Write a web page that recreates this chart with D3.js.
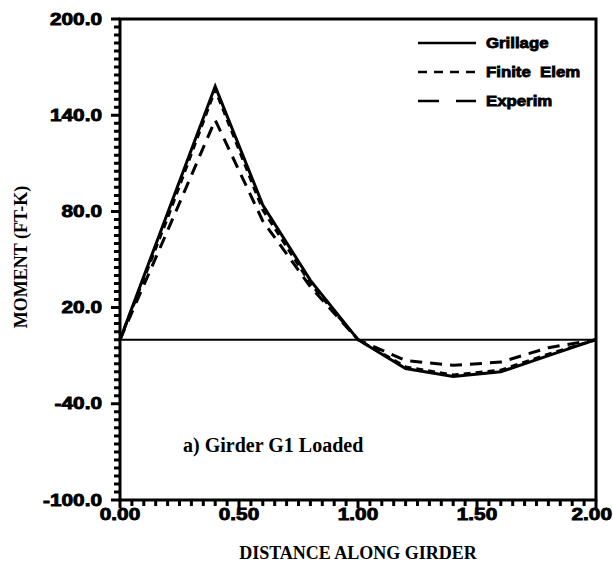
<!DOCTYPE html>
<html>
<head>
<meta charset="utf-8" />
<title>Girder G1 Loaded - moment along girder</title>
<script src="https://cdn.jsdelivr.net/npm/d3@7"></script>
<style>
	body { margin: 0; background: #fff; }
	.tick-lab { font-family: "Liberation Sans", Arial, sans-serif; font-weight: bold; font-size: 16px; fill: #000; stroke: #000; stroke-width: 0.8px; }
	.serif { font-family: "Liberation Serif", "Times New Roman", serif; font-weight: bold; fill: #000; }
	.legend-lab { font-family: "Liberation Sans", Arial, sans-serif; font-weight: bold; font-size: 14px; fill: #000; stroke: #000; stroke-width: 0.8px; }
</style>
</head>
<body>
<script>
// datos
var distance   = [0.0, 0.2, 0.4, 0.6, 0.8, 1.0, 1.2, 1.4, 1.6, 1.8, 2.0];
var grillage   = [0, 79, 158, 84, 37, 0, -18, -23, -20, -10, 0];
var finiteElem = [0, 76, 156, 81, 35, 0, -17, -22, -19, -9, 0];
var experim    = [0, 68, 137, 74, 33, 0, -13, -16, -14, -5, 0];

var yTicks = [200, 140, 80, 20, -40, -100];
var xTicks = [0, 0.5, 1.0, 1.5, 2.0];
var yMinor = d3.range(-100, 201, 5);
var xMinor = d3.range(0, 2.001, 0.05);

var series = [
	{ name: "Grillage",     values: grillage,   dash: null,   legDash: null },
	{ name: "Finite  Elem", values: finiteElem, dash: "7,5",  legDash: "9,7" },
	{ name: "Experim",      values: experim,    dash: "12,8", legDash: "21,17" }
];

var STRETCH = 1.3; // las etiquetas del original son muy anchas

var svg = d3.select("body").append("svg")
	.attr("width", 613)
	.attr("height", 570);

var margin = { top: 19, right: 17, bottom: 70, left: 120 },
	width = 613 - margin.left - margin.right,
	height = 570 - margin.top - margin.bottom;

var g = svg.append("g").attr("transform", "translate(" + margin.left + "," + margin.top + ")");

var x = d3.scaleLinear().domain([0, 2]).range([0, width]);
var y = d3.scaleLinear().domain([-100, 200]).range([height, 0]);

// ticks eje Y (hacia fuera), un solo path
var yTickPath = yMinor.map(function (d) {
	var len = yTicks.indexOf(d) >= 0 ? 9 : 6;
	return "M" + (-len) + "," + y(d).toFixed(1) + "H0";
}).join("");
g.append("path")
	.attr("d", yTickPath)
	.attr("fill", "none")
	.attr("stroke", "black")
	.attr("stroke-width", 3);

// ticks eje X (hacia abajo)
var xTickPath = xMinor.map(function (d) {
	var len = Math.abs(d * 2 - Math.round(d * 2)) < 1e-6 ? 8 : 6;
	return "M" + x(d).toFixed(1) + "," + height + "V" + (height + len);
}).join("");
g.append("path")
	.attr("d", xTickPath)
	.attr("fill", "none")
	.attr("stroke", "black")
	.attr("stroke-width", 3);

// etiquetas eje Y
g.append("g").selectAll("text")
	.data(yTicks)
	.enter().append("text")
	.attr("class", "tick-lab")
	.attr("text-anchor", "end")
	.attr("dy", "0.35em")
	.attr("transform", function (d) { return "translate(-18," + y(d) + ") scale(" + STRETCH + ",1)"; })
	.text(function (d) { return d3.format(".1f")(d).replace("\u2212", "-"); });

// etiquetas eje X
g.append("g").selectAll("text")
	.data(xTicks)
	.enter().append("text")
	.attr("class", "tick-lab")
	.attr("text-anchor", function (d) { return d == 2 ? "end" : "middle"; })
	.attr("dy", "0.71em")
	.attr("transform", function (d) {
		var px = d == 2 ? 613 - margin.left - 1 : x(d);
		return "translate(" + px + "," + (height + 9) + ") scale(" + STRETCH + ",1)";
	})
	.text(d3.format(".2f"));

// marco
g.append("rect")
	.attr("x", 0).attr("y", 0)
	.attr("width", width).attr("height", height)
	.attr("fill", "none")
	.attr("stroke", "#000")
	.attr("stroke-width", 3);

// linea de cero
g.append("line")
	.attr("x1", x(0)).attr("x2", x(2))
	.attr("y1", y(0)).attr("y2", y(0))
	.attr("stroke", "#000")
	.attr("stroke-width", 2);

// curvas
var line = d3.line()
	.x(function (d, i) { return x(distance[i]); })
	.y(function (d) { return y(d); });

series.slice().reverse().forEach(function (s) {
	g.append("path")
		.datum(s.values)
		.attr("d", line)
		.attr("fill", "none")
		.attr("stroke", "#000")
		.attr("stroke-width", 3)
		.attr("stroke-linejoin", "miter")
		.attr("stroke-dasharray", s.dash);
});

// leyenda
var leg = svg.append("g").attr("transform", "translate(418,43)");
series.forEach(function (s, i) {
	var row = leg.append("g").attr("transform", "translate(0," + (i * 29) + ")");
	row.append("line")
		.attr("x1", 0).attr("x2", 58)
		.attr("stroke", "#000")
		.attr("stroke-width", 2.5)
		.attr("stroke-dasharray", s.legDash);
	row.append("text")
		.attr("class", "legend-lab")
		.attr("x", 68 / 1.2)
		.attr("dy", "0.35em")
		.attr("transform", "scale(1.2,1)")
		.style("white-space", "pre")
		.text(s.name);
});

// anotacion
g.append("text")
	.attr("class", "serif")
	.attr("x", x(0.265))
	.attr("y", y(-70))
	.style("font-size", "20px")
	.text("a) Girder G1 Loaded");

// titulos de ejes
svg.append("text")
	.attr("class", "serif")
	.attr("transform", "translate(27,257) rotate(-90)")
	.attr("text-anchor", "middle")
	.style("font-size", "18px")
	.text("MOMENT (FT-K)");

svg.append("text")
	.attr("class", "serif")
	.attr("x", 358)
	.attr("y", 559)
	.attr("text-anchor", "middle")
	.style("font-size", "18px")
	.text("DISTANCE ALONG GIRDER");
</script>
</body>
</html>
